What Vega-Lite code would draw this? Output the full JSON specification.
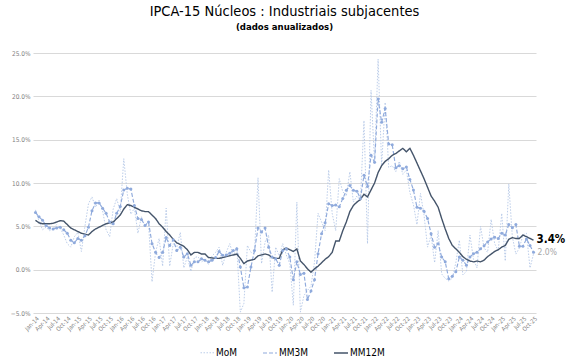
{
"$schema": "https://vega.github.io/schema/vega-lite/v6.json",
"autosize": "none",
"width": 503,
"height": 260,
"padding": {"left": 33, "top": 53, "right": 46, "bottom": 50},
"background": "white",
"config": {"font": "DejaVu Sans Condensed, Liberation Sans, sans-serif", "view": {"stroke": null}},
"title": {"text": "IPCA-15 Núcleos : Industriais subjacentes", "subtitle": "(dados anualizados)", "fontSize": 14.5, "fontWeight": "normal", "color": "#000000", "subtitleFontSize": 9.5, "subtitleFontWeight": "bold", "subtitleColor": "#000000", "subtitlePadding": 2, "anchor": "middle", "frame": "group", "offset": 18},
"data": {"values": [
{"m":"Jan-14","MoM":6.9,"MM3M":6.6,"MM12M":5.7},
{"m":"Feb-14","MoM":5.6,"MM3M":6.1,"MM12M":5.4},
{"m":"Mar-14","MoM":4.6,"MM3M":5.7,"MM12M":5.3},
{"m":"Apr-14","MoM":4.9,"MM3M":5.1,"MM12M":5.3},
{"m":"May-14","MoM":4.5,"MM3M":4.8,"MM12M":5.3},
{"m":"Jun-14","MoM":4.7,"MM3M":4.7,"MM12M":5.35},
{"m":"Jul-14","MoM":5.2,"MM3M":4.8,"MM12M":5.5},
{"m":"Aug-14","MoM":4.8,"MM3M":4.9,"MM12M":5.65},
{"m":"Sep-14","MoM":4.0,"MM3M":4.6,"MM12M":5.6},
{"m":"Oct-14","MoM":3.0,"MM3M":4.2,"MM12M":5.2},
{"m":"Nov-14","MoM":2.6,"MM3M":3.4,"MM12M":4.8},
{"m":"Dec-14","MoM":3.8,"MM3M":3.1,"MM12M":4.6},
{"m":"Jan-15","MoM":4.3,"MM3M":3.6,"MM12M":4.4},
{"m":"Feb-15","MoM":2.1,"MM3M":3.4,"MM12M":4.2},
{"m":"Mar-15","MoM":5.0,"MM3M":3.9,"MM12M":4.1},
{"m":"Apr-15","MoM":7.6,"MM3M":4.9,"MM12M":4.0},
{"m":"May-15","MoM":8.4,"MM3M":6.8,"MM12M":4.4},
{"m":"Jun-15","MoM":7.2,"MM3M":7.7,"MM12M":4.7},
{"m":"Jul-15","MoM":8.0,"MM3M":7.7,"MM12M":4.9},
{"m":"Aug-15","MoM":6.8,"MM3M":7.1,"MM12M":5.1},
{"m":"Sep-15","MoM":4.6,"MM3M":6.5,"MM12M":5.3},
{"m":"Oct-15","MoM":3.8,"MM3M":5.5,"MM12M":5.4},
{"m":"Nov-15","MoM":7.0,"MM3M":5.3,"MM12M":5.5},
{"m":"Dec-15","MoM":8.2,"MM3M":6.5,"MM12M":5.9},
{"m":"Jan-16","MoM":6.7,"MM3M":7.3,"MM12M":6.3},
{"m":"Feb-16","MoM":12.8,"MM3M":9.2,"MM12M":7.0},
{"m":"Mar-16","MoM":8.7,"MM3M":9.4,"MM12M":7.5},
{"m":"Apr-16","MoM":6.4,"MM3M":9.3,"MM12M":7.4},
{"m":"May-16","MoM":7.1,"MM3M":7.4,"MM12M":7.2},
{"m":"Jun-16","MoM":4.2,"MM3M":5.9,"MM12M":7.0},
{"m":"Jul-16","MoM":6.1,"MM3M":5.8,"MM12M":6.8},
{"m":"Aug-16","MoM":5.0,"MM3M":5.1,"MM12M":6.7},
{"m":"Sep-16","MoM":5.4,"MM3M":5.5,"MM12M":6.7},
{"m":"Oct-16","MoM":-1.4,"MM3M":3.0,"MM12M":6.3},
{"m":"Nov-16","MoM":2.0,"MM3M":2.0,"MM12M":5.9},
{"m":"Dec-16","MoM":3.6,"MM3M":1.4,"MM12M":5.3},
{"m":"Jan-17","MoM":0.4,"MM3M":2.0,"MM12M":4.9},
{"m":"Feb-17","MoM":7.1,"MM3M":3.7,"MM12M":4.4},
{"m":"Mar-17","MoM":0.4,"MM3M":2.8,"MM12M":4.0},
{"m":"Apr-17","MoM":3.0,"MM3M":3.45,"MM12M":3.5},
{"m":"May-17","MoM":2.6,"MM3M":2.2,"MM12M":3.1},
{"m":"Jun-17","MoM":4.3,"MM3M":2.6,"MM12M":2.9},
{"m":"Jul-17","MoM":0.2,"MM3M":1.45,"MM12M":2.7},
{"m":"Aug-17","MoM":1.5,"MM3M":1.85,"MM12M":2.3},
{"m":"Sep-17","MoM":-0.2,"MM3M":0.5,"MM12M":1.7},
{"m":"Oct-17","MoM":1.4,"MM3M":0.9,"MM12M":2.0},
{"m":"Nov-17","MoM":1.5,"MM3M":0.9,"MM12M":2.0},
{"m":"Dec-17","MoM":0.9,"MM3M":1.25,"MM12M":1.8},
{"m":"Jan-18","MoM":1.2,"MM3M":1.1,"MM12M":1.8},
{"m":"Feb-18","MoM":0.6,"MM3M":0.9,"MM12M":1.4},
{"m":"Mar-18","MoM":1.6,"MM3M":1.1,"MM12M":1.35},
{"m":"Apr-18","MoM":2.0,"MM3M":1.4,"MM12M":1.3},
{"m":"May-18","MoM":2.6,"MM3M":2.1,"MM12M":1.3},
{"m":"Jun-18","MoM":0.5,"MM3M":1.65,"MM12M":1.4},
{"m":"Jul-18","MoM":2.0,"MM3M":1.7,"MM12M":1.5},
{"m":"Aug-18","MoM":3.0,"MM3M":1.9,"MM12M":1.6},
{"m":"Sep-18","MoM":1.6,"MM3M":2.2,"MM12M":1.7},
{"m":"Oct-18","MoM":2.6,"MM3M":2.4,"MM12M":1.8},
{"m":"Nov-18","MoM":-4.9,"MM3M":0.3,"MM12M":1.3},
{"m":"Dec-18","MoM":-3.9,"MM3M":-2.1,"MM12M":0.7},
{"m":"Jan-19","MoM":2.8,"MM3M":-2.0,"MM12M":1.0},
{"m":"Feb-19","MoM":2.0,"MM3M":0.3,"MM12M":1.1},
{"m":"Mar-19","MoM":1.8,"MM3M":2.2,"MM12M":1.2},
{"m":"Apr-19","MoM":10.6,"MM3M":4.8,"MM12M":1.6},
{"m":"May-19","MoM":0.7,"MM3M":4.35,"MM12M":1.7},
{"m":"Jun-19","MoM":3.2,"MM3M":4.8,"MM12M":1.8},
{"m":"Jul-19","MoM":4.0,"MM3M":2.6,"MM12M":1.7},
{"m":"Aug-19","MoM":-2.6,"MM3M":1.45,"MM12M":1.4},
{"m":"Sep-19","MoM":2.6,"MM3M":1.25,"MM12M":1.3},
{"m":"Oct-19","MoM":1.6,"MM3M":0.5,"MM12M":1.3},
{"m":"Nov-19","MoM":3.0,"MM3M":2.2,"MM12M":2.3},
{"m":"Dec-19","MoM":1.7,"MM3M":2.4,"MM12M":2.5},
{"m":"Jan-20","MoM":0.7,"MM3M":1.45,"MM12M":2.3},
{"m":"Feb-20","MoM":-4.1,"MM3M":-1.15,"MM12M":2.1},
{"m":"Mar-20","MoM":7.8,"MM3M":0.9,"MM12M":2.4},
{"m":"Apr-20","MoM":-4.9,"MM3M":-0.55,"MM12M":1.0},
{"m":"May-20","MoM":-3.0,"MM3M":-0.4,"MM12M":0.6},
{"m":"Jun-20","MoM":-2.4,"MM3M":-3.45,"MM12M":0.1},
{"m":"Jul-20","MoM":-1.9,"MM3M":-2.45,"MM12M":-0.3},
{"m":"Aug-20","MoM":0.9,"MM3M":-1.15,"MM12M":0.1},
{"m":"Sep-20","MoM":6.5,"MM3M":1.85,"MM12M":0.4},
{"m":"Oct-20","MoM":5.5,"MM3M":4.15,"MM12M":0.8},
{"m":"Nov-20","MoM":4.5,"MM3M":5.4,"MM12M":1.2},
{"m":"Dec-20","MoM":11.5,"MM3M":7.6,"MM12M":1.5},
{"m":"Jan-21","MoM":6.5,"MM3M":7.4,"MM12M":2.0},
{"m":"Feb-21","MoM":4.5,"MM3M":7.45,"MM12M":3.3},
{"m":"Mar-21","MoM":10.5,"MM3M":7.25,"MM12M":3.3},
{"m":"Apr-21","MoM":9.0,"MM3M":8.2,"MM12M":4.5},
{"m":"May-21","MoM":8.5,"MM3M":9.15,"MM12M":5.5},
{"m":"Jun-21","MoM":11.3,"MM3M":9.7,"MM12M":6.7},
{"m":"Jul-21","MoM":7.8,"MM3M":9.15,"MM12M":7.4},
{"m":"Aug-21","MoM":8.5,"MM3M":9.05,"MM12M":7.8},
{"m":"Sep-21","MoM":8.0,"MM3M":8.2,"MM12M":8.1},
{"m":"Oct-21","MoM":17.2,"MM3M":10.9,"MM12M":8.7},
{"m":"Nov-21","MoM":3.0,"MM3M":9.6,"MM12M":8.4},
{"m":"Dec-21","MoM":20.7,"MM3M":13.2,"MM12M":9.2},
{"m":"Jan-22","MoM":12.3,"MM3M":12.4,"MM12M":10.0},
{"m":"Feb-22","MoM":24.3,"MM3M":19.7,"MM12M":11.2},
{"m":"Mar-22","MoM":12.0,"MM3M":17.0,"MM12M":12.0},
{"m":"Apr-22","MoM":19.3,"MM3M":18.6,"MM12M":12.5},
{"m":"May-22","MoM":11.8,"MM3M":14.5,"MM12M":12.8},
{"m":"Jun-22","MoM":12.0,"MM3M":14.4,"MM12M":13.2},
{"m":"Jul-22","MoM":11.3,"MM3M":11.75,"MM12M":13.4},
{"m":"Aug-22","MoM":12.5,"MM3M":12.0,"MM12M":13.7},
{"m":"Sep-22","MoM":11.0,"MM3M":11.65,"MM12M":14.0},
{"m":"Oct-22","MoM":11.5,"MM3M":11.85,"MM12M":13.6},
{"m":"Nov-22","MoM":8.9,"MM3M":10.4,"MM12M":14.0},
{"m":"Dec-22","MoM":7.5,"MM3M":9.2,"MM12M":13.2},
{"m":"Jan-23","MoM":5.2,"MM3M":7.2,"MM12M":12.3},
{"m":"Feb-23","MoM":8.8,"MM3M":7.1,"MM12M":11.4},
{"m":"Mar-23","MoM":6.3,"MM3M":6.75,"MM12M":10.5},
{"m":"Apr-23","MoM":2.6,"MM3M":5.9,"MM12M":9.5},
{"m":"May-23","MoM":4.0,"MM3M":4.15,"MM12M":8.5},
{"m":"Jun-23","MoM":0.8,"MM3M":2.6,"MM12M":7.9},
{"m":"Jul-23","MoM":4.5,"MM3M":3.0,"MM12M":7.2},
{"m":"Aug-23","MoM":-0.5,"MM3M":1.45,"MM12M":5.9},
{"m":"Sep-23","MoM":-1.0,"MM3M":0.9,"MM12M":4.7},
{"m":"Oct-23","MoM":-1.3,"MM3M":-1.05,"MM12M":3.6},
{"m":"Nov-23","MoM":-1.0,"MM3M":-0.75,"MM12M":2.8},
{"m":"Dec-23","MoM":0.8,"MM3M":-0.25,"MM12M":2.4},
{"m":"Jan-24","MoM":3.4,"MM3M":1.45,"MM12M":2.0},
{"m":"Feb-24","MoM":-0.6,"MM3M":1.1,"MM12M":1.5},
{"m":"Mar-24","MoM":-0.2,"MM3M":0.5,"MM12M":1.2},
{"m":"Apr-24","MoM":4.0,"MM3M":1.45,"MM12M":1.0},
{"m":"May-24","MoM":1.2,"MM3M":1.85,"MM12M":0.9},
{"m":"Jun-24","MoM":0.2,"MM3M":2.0,"MM12M":1.0},
{"m":"Jul-24","MoM":5.0,"MM3M":2.4,"MM12M":0.9},
{"m":"Aug-24","MoM":2.5,"MM3M":2.75,"MM12M":1.1},
{"m":"Sep-24","MoM":2.0,"MM3M":3.2,"MM12M":1.5},
{"m":"Oct-24","MoM":5.8,"MM3M":3.55,"MM12M":1.8},
{"m":"Nov-24","MoM":3.0,"MM3M":3.75,"MM12M":2.1},
{"m":"Dec-24","MoM":2.2,"MM3M":3.6,"MM12M":2.3},
{"m":"Jan-25","MoM":6.5,"MM3M":4.2,"MM12M":2.6},
{"m":"Feb-25","MoM":1.0,"MM3M":4.0,"MM12M":2.8},
{"m":"Mar-25","MoM":9.9,"MM3M":5.2,"MM12M":3.5},
{"m":"Apr-25","MoM":3.8,"MM3M":4.85,"MM12M":3.7},
{"m":"May-25","MoM":1.8,"MM3M":5.2,"MM12M":3.6},
{"m":"Jun-25","MoM":2.5,"MM3M":2.7,"MM12M":3.6},
{"m":"Jul-25","MoM":4.0,"MM3M":2.7,"MM12M":4.0},
{"m":"Aug-25","MoM":4.2,"MM3M":3.55,"MM12M":3.8},
{"m":"Sep-25","MoM":0.2,"MM3M":2.8,"MM12M":3.6},
{"m":"Oct-25","MoM":1.8,"MM3M":2.0,"MM12M":3.4}
]},
"transform": [{"fold": ["MoM", "MM3M", "MM12M"], "as": ["series", "value"]}],
"encoding": {
  "x": {"field": "m", "type": "ordinal", "sort": null, "scale": {"type": "point", "padding": 0.7},
        "axis": {"title": null, "labelAngle": -45, "labelFontSize": 6, "labelColor": "#7f7f7f", "ticks": false, "domain": false, "grid": false, "labelPadding": 2,
                 "labelExpr": "indexof(['Jan','Apr','Jul','Oct'], slice(datum.label, 0, 3)) >= 0 ? datum.label : ''"}},
  "y": {"field": "value", "type": "quantitative", "scale": {"domain": [-5, 25], "nice": false, "zero": false},
        "axis": {"title": null, "values": [-5, 0, 5, 10, 15, 20, 25], "labelExpr": "format(datum.value, '.1f') + '%'", "labelFontSize": 6.5, "labelColor": "#7f7f7f", "ticks": false, "domain": false, "grid": true, "gridColor": "#d9d9d9", "gridWidth": 1, "labelPadding": 3}}
},
"layer": [
  {"mark": {"type": "line"},
   "encoding": {
     "color": {"field": "series", "type": "nominal", "sort": ["MoM", "MM3M", "MM12M"],
               "scale": {"domain": ["MoM", "MM3M", "MM12M"], "range": ["#b4c7e7", "#8faadc", "#44546a"]},
               "legend": {"title": null, "orient": "none", "legendX": 167, "legendY": 292, "direction": "horizontal", "symbolType": "stroke", "symbolSize": 196, "labelFontSize": 10, "labelColor": "#000000", "columnPadding": 22, "labelOffset": 1}},
     "strokeDash": {"field": "series", "type": "nominal", "sort": ["MoM", "MM3M", "MM12M"],
               "scale": {"domain": ["MoM", "MM3M", "MM12M"], "range": [[1.5, 1.5], [4, 2], [1, 0]]}},
     "strokeWidth": {"field": "series", "type": "nominal", "sort": ["MoM", "MM3M", "MM12M"],
               "scale": {"domain": ["MoM", "MM3M", "MM12M"], "range": [0.9, 1.4, 0.9]}}
   }},
  {"transform": [{"filter": "datum.series === 'MM3M'"}],
   "mark": {"type": "circle", "size": 9, "opacity": 1, "color": "#8faadc"}},
  {"transform": [{"filter": "datum.m === 'Oct-25' && datum.series === 'MM12M'"}, {"calculate": "format(datum.value, '.1f') + '%'", "as": "lbl"}],
   "mark": {"type": "text", "align": "left", "baseline": "middle", "dx": 3, "fontSize": 11.5, "fontWeight": "bold", "color": "#000000"},
   "encoding": {"text": {"field": "lbl"}}},
  {"transform": [{"filter": "datum.m === 'Oct-25' && datum.series === 'MM3M'"}, {"calculate": "format(datum.value, '.1f') + '%'", "as": "lbl"}],
   "mark": {"type": "text", "align": "left", "baseline": "middle", "dx": 4, "fontSize": 8.5, "color": "#a6a6a6"},
   "encoding": {"text": {"field": "lbl"}}}
]
}
